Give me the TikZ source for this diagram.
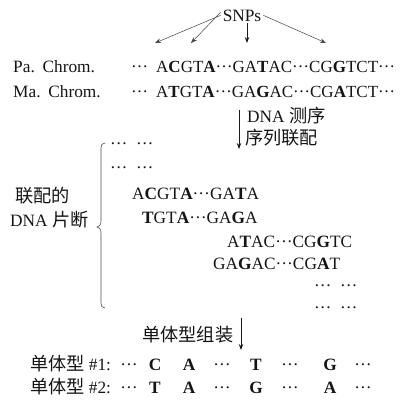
\documentclass[tikz,border=0pt]{standalone}
\usepackage{fontspec}
\setmainfont{Liberation Serif}
\newfontfamily\cjk{Noto Sans CJK SC}
\usetikzlibrary{arrows.meta}

% raised ellipsis, centred on the capitals
\newcommand\dts{\raisebox{0.26em}{\char"2026}}
\newcommand\bl[1]{\textbf{#1}}

\begin{document}
\begin{tikzpicture}[x=1pt,y=-1pt,
  every node/.style={text=black!92},
  txt/.style={inner sep=0pt, anchor=base west, font=\fontsize{17.3}{19}\selectfont},
  seqtxt/.style={txt, font=\fontsize{17}{19}\selectfont},
  ctr/.style={inner sep=0pt, anchor=base, font=\fontsize{17.3}{19}\selectfont},
  lbl/.style={inner sep=0pt, anchor=base west, font=\fontsize{18.2}{20}\selectfont\cjk},
  thin arrow/.style={draw=black!75, line width=0.5pt, -{Stealth[length=6pt,width=4.5pt]}},
  main arrow/.style={draw=black!90, line width=0.8pt, -{Stealth[length=6pt,width=4.5pt]}},
  brc/.style={draw=black!70, line width=0.6pt}
]
\useasboundingbox (0,0) rectangle (403,402);

% SNP label and its arrows
\node[ctr, inner sep=2pt] (snp) at (242,21) {SNPs};
\coordinate (t1) at (155,43);
\coordinate (t2) at (191,43);
\coordinate (t3) at (247,43);
\coordinate (t4) at (326,43);
\draw[thin arrow] (snp.west) -- (t1);
\draw[thin arrow] ([yshift=3pt]snp.west) -- (t2);
\draw[main arrow] (snp.south -| t3) -- (t3);
\draw[thin arrow] (snp.east) -- (t4);

% parental chromosomes
\node[txt] (pa) at (13,72) {Pa.\hspace{0.45em}Chrom.};
\node[seqtxt] (pad) at (131,72) {\dts};
\node[seqtxt] (pas) at (156,72) {A\bl{C}GT\bl{A}\dts GA\bl{T}AC\dts CG\bl{G}TCT\dts};
\node[txt] (ma) at (13,97) {Ma.\hspace{0.45em}Chrom.};
\node[seqtxt] (mad) at (131,97) {\dts};
\node[seqtxt] (mas) at (156,97) {A\bl{T}GT\bl{A}\dts GA\bl{G}AC\dts CG\bl{A}TCT\dts};

% sequencing step
\coordinate (s1) at (239,110);
\coordinate (s2) at (239,149);
\draw[main arrow] (s1) -- (s2);
\node[txt] (seq) at (247,122) {DNA {\cjk\fontsize{18.2}{20}\selectfont 测序}};
\node[lbl] (aln) at (245,144) {序列联配};

% aligned fragments
\node[lbl] (fl1) at (15,202) {联配的};
\node[txt] (fl2) at (10,226) {DNA {\cjk\fontsize{18.2}{20}\selectfont 片断}};
\draw[brc] (105,143) .. controls (102,143) and (101,145) .. (101,148) -- (101,221)
  .. controls (101,225) and (99,227) .. (97,227)
  .. controls (99,227) and (101,229) .. (101,233) -- (101,303)
  .. controls (101,306) and (102,308) .. (105,308);

\node[txt] (f1) at (110,149) {\dts\hspace{0.5em}\dts};
\node[txt] (f2) at (110,173) {\dts\hspace{0.5em}\dts};
\node[txt] (f3) at (132,199) {A\bl{C}GT\bl{A}\dts GA\bl{T}A};
\node[txt] (f4) at (142,223) {\bl{T}GT\bl{A}\dts GA\bl{G}A};
\node[txt] (f5) at (227,247) {A\bl{T}AC\dts CG\bl{G}TC};
\node[txt] (f6) at (213,269) {GA\bl{G}AC\dts CG\bl{A}T};
\node[txt] (f7) at (314,291) {\dts\hspace{0.5em}\dts};
\node[txt] (f8) at (314,313) {\dts\hspace{0.5em}\dts};

% haplotype assembly
\node[lbl] (asm) at (142,341) {单体型组装};
\coordinate (h1) at (241,318);
\coordinate (h2) at (241,350);
\draw[main arrow] (h1) -- (h2);

\node[lbl] (hp1) at (30,370) {单体型 {\rmfamily\fontsize{17.3}{19}\selectfont \#1:}};
\node[lbl] (hp2) at (30,393) {单体型 {\rmfamily\fontsize{17.3}{19}\selectfont \#2:}};

\foreach \x/\a/\b [count=\i] in {129/\dts/\dts, 155/\bl{C}/\bl{T}, 189/\bl{A}/\bl{A}, 222/\dts/\dts,
                                 256/\bl{T}/\bl{G}, 290/\dts/\dts, 330/\bl{G}/\bl{A}, 363/\dts/\dts} {
  \node[ctr] (ha\i) at (\x,370) {\a};
  \node[ctr] (hb\i) at (\x,393) {\b};
}
\end{tikzpicture}
\end{document}
